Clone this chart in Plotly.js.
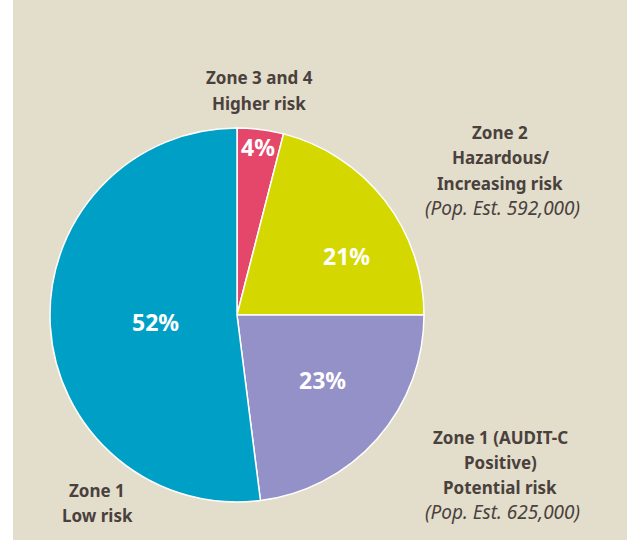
<!DOCTYPE html>
<html>
<head>
<meta charset="utf-8">
<script src="https://cdn.plot.ly/plotly-3.0.1.min.js"></script>
<style>html,body{margin:0;padding:0;background:#fff;}#chart{width:627px;height:540px;}</style>
</head>
<body>
<div id="chart"></div>
<script>
// Data
const categories = ["Zone 3 and 4 Higher risk", "Zone 2 Hazardous/Increasing risk", "Zone 1 (AUDIT-C Positive) Potential risk", "Zone 1 Low risk"];
const values = [4, 21, 23, 52];
const sliceColors = ["#e5476a", "#d4d800", "#9490c8", "#00a0c6"];

const labelLines = [
  ["Zone 3 and 4", "Higher risk"],
  ["Zone 2", "Hazardous/", "Increasing risk", "(Pop. Est. 592,000)"],
  ["Zone 1 (AUDIT-C", "Positive)", "Potential risk", "(Pop. Est. 625,000)"],
  ["Zone 1", "Low risk"]
];

const W = 627, H = 540;
const cx = 237, cy = 315, R = 187;
const labelAnchors = [[259, 78], [500, 133], [500, 437], [97, 490]];
const pctAnchors = [[258, 147], [346, 256], [322, 380], [155, 322]];
const lineGap = 25;
const fontFam = "Noto Sans, Open Sans, sans-serif";
const textCol = "#4a413d";

const annotations = [];
labelLines.forEach((lines, i) => {
  lines.forEach((t, j) => {
    const italic = t.startsWith("(");
    annotations.push({
      xref: "paper", yref: "paper",
      x: (labelAnchors[i][0] + (italic ? 2 : 0)) / W, y: 1 - (labelAnchors[i][1] + j * lineGap) / H,
      xanchor: "center", yanchor: "middle", showarrow: false,
      text: italic ? "<i>" + t + "</i>" : "<b>" + t + "</b>",
      font: {family: fontFam, size: italic ? 19 : 17, color: textCol, style: italic ? "italic" : "normal", weight: italic ? 400 : 700}
    });
  });
});
values.forEach((v, i) => {
  annotations.push({
    xref: "paper", yref: "paper",
    x: pctAnchors[i][0] / W, y: 1 - pctAnchors[i][1] / H,
    xanchor: "center", yanchor: "middle", showarrow: false,
    text: "<b>" + v + "%</b>",
    font: {family: fontFam, size: 23, color: "#ffffff", weight: 700}
  });
});

const trace = {
  type: "pie",
  labels: categories,
  values: values,
  sort: false,
  direction: "clockwise",
  rotation: 0,
  marker: {colors: sliceColors, line: {color: "#ffffff", width: 1.5}},
  textinfo: "none",
  hoverinfo: "none",
  showlegend: false,
  domain: {x: [(cx - R) / W, (cx + R) / W], y: [1 - (cy + R) / H, 1 - (cy - R) / H]}
};

const layout = {
  width: W, height: H,
  margin: {l: 0, r: 0, t: 0, b: 0},
  paper_bgcolor: "#e3ddcb",
  showlegend: false,
  annotations: annotations,
  shapes: [{type: "rect", xref: "paper", yref: "paper", x0: 0, x1: 13 / W, y0: 0, y1: 1, fillcolor: "#ffffff", line: {width: 0}, layer: "below"}]
};

Plotly.newPlot("chart", [trace], layout, {displayModeBar: false, staticPlot: true});
</script>
</body>
</html>
